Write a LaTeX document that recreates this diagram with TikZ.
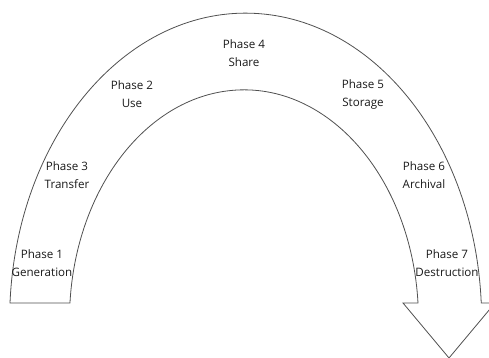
\documentclass[tikz,border=0pt]{standalone}
\usepackage{fontspec}
\setmainfont{Open Sans}
\definecolor{arch-line}{HTML}{505050}
\definecolor{label-text}{HTML}{1A1A1A}

\begin{document}
\begin{tikzpicture}[x=1pt, y=1pt,
      every node/.style={font=\fontsize{11.6}{18}\selectfont},
      phase/.style={align=center, inner sep=0pt, text=label-text}]
    \useasboundingbox (0,0) rectangle (489,358);
    \clip (0,0) rectangle (489,358);
    % arch arrow: outer and inner half ellipses, head at the right end
    \draw[arch-line, line width=0.8pt, fill=white, line join=miter]
      (10,55) arc[start angle=176.8, end angle=3.2, x radius=236, y radius=307]
      -- (495,55) -- (449,0) -- (403,55) -- (418,55)
      arc[start angle=4.2, end angle=175.8, x radius=174.5, y radius=230]
      -- cycle;
    \node[phase] (P1) at (42,95) {Phase 1\\Generation};
    \node[phase] (P3) at (67,183) {Phase 3\\Transfer};
    \node[phase] (P2) at (132,264) {Phase 2\\Use};
    \node[phase] (P4) at (244,305) {Phase 4\\Share};
    \node[phase] (P5) at (363,264) {Phase 5\\Storage};
    \node[phase] (P6) at (424,183) {Phase 6\\Archival};
    \node[phase] (P7) at (447,95) {Phase 7\\Destruction};
\end{tikzpicture}
\end{document}
